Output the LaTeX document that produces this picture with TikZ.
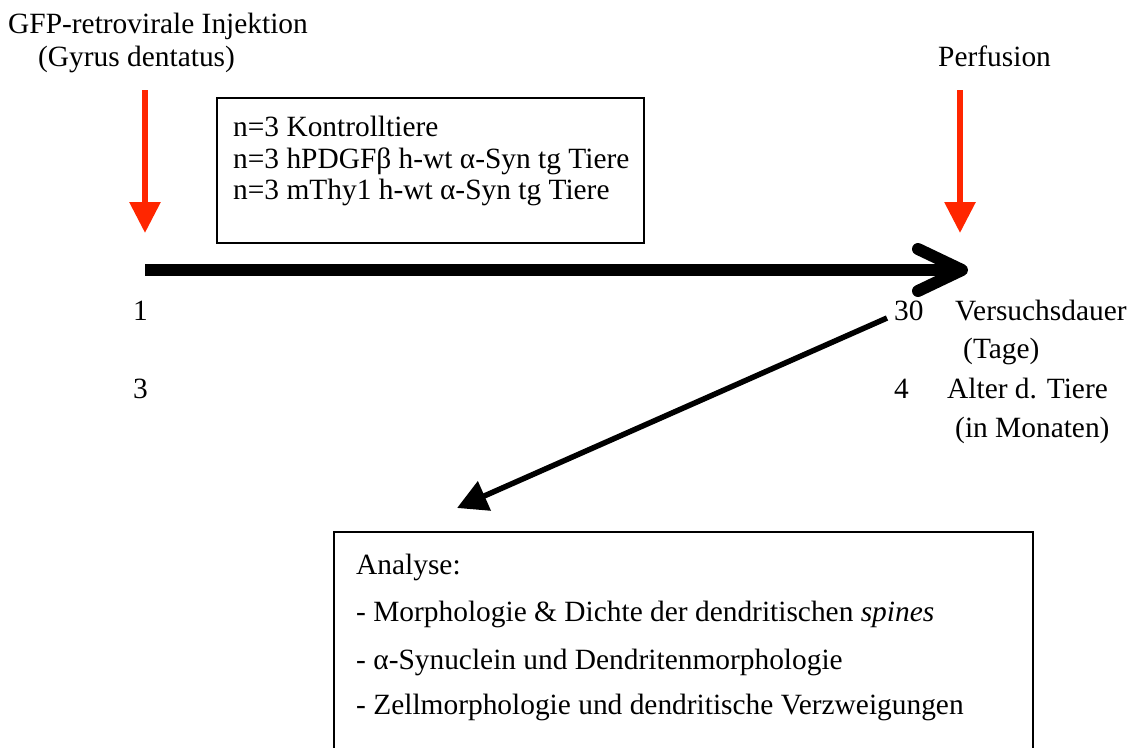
\documentclass[tikz,border=0pt]{standalone}
\usepackage{fontspec}
\setmainfont{Liberation Serif}
\usetikzlibrary{arrows.meta}
\definecolor{arrowred}{RGB}{255,38,0}
\begin{document}
\begin{tikzpicture}[x=1pt,y=-1pt,
  lbl/.style={anchor=base west, inner sep=0pt, font=\fontsize{29.4}{35}\selectfont},
  frame/.style={draw=black, line width=2pt, inner sep=0pt, anchor=north west},
  redarrow/.style={draw=arrowred, line width=6pt, -{Triangle[length=31pt,width=30pt]}},
  timeline/.style={line width=12pt},
  chevron/.style={line width=12pt, line cap=round, line join=round},
  linkarrow/.style={line width=5.5pt, -{Triangle[length=30pt,width=31pt]}}]
\useasboundingbox (0,0) rectangle (1131,747);
\clip (0,0) rectangle (1131,747);
% top labels
\node[lbl] (inj1) at (8,33) {GFP-retrovirale Injektion};
\node[lbl] (inj2) at (38,66) {(Gyrus dentatus)};
\node[lbl] (perf) at (938,66) {Perfusion};
% red arrows
\coordinate (r0a) at (145,90); \coordinate (r0b) at (145,233);
\coordinate (r1a) at (960,90); \coordinate (r1b) at (960,233);
\draw[redarrow] (r0a) -- (r0b);
\draw[redarrow] (r1a) -- (r1b);
% groups box
\node[frame, minimum width=427pt, minimum height=145pt] (groups) at (216,97) {};
\node[lbl] (g1) at (233,136) {n=3 Kontrolltiere};
\node[lbl] (g2) at (233,168) {n=3 hPDGFβ h-wt α-Syn tg Tiere};
\node[lbl] (g3) at (233,199) {n=3 mThy1 h-wt α-Syn tg Tiere};
% timeline
\coordinate (t0) at (145,270); \coordinate (t1) at (962,270);
\draw[timeline] (t0) -- (t1);
\draw[chevron] ([shift={(-44,-21)}]t1) -- (t1) -- ([shift={(-44,21)}]t1);
% axis labels
\node[lbl] (day1) at (133,320) {1};
\node[lbl] (day30) at (894,320) {30};
\node[lbl] (vd) at (955,320) {Versuchsdauer};
\node[lbl] (tage) at (963,358) {(Tage)};
\node[lbl] (age3) at (133,398) {3};
\node[lbl] (age4) at (894,398) {4};
\node[lbl] (alter) at (947,398) {Alter d. Tiere};
\node[lbl] (mon) at (955,437) {(in Monaten)};
% link arrow
\coordinate (d0) at (887,318); \coordinate (d1) at (457,508);
\draw[linkarrow] (d0) -- (d1);
% analysis box
\node[frame, minimum width=699pt, minimum height=240pt] (analysis) at (333,531) {};
\node[lbl] (a0) at (356,574) {Analyse:};
\node[lbl] (a1) at (356,621) {- Morphologie \& Dichte der dendritischen \textit{spines}};
\node[lbl] (a2) at (356,669) {- α-Synuclein und Dendritenmorphologie};
\node[lbl] (a3) at (356,714) {- Zellmorphologie und dendritische Verzweigungen};
\end{tikzpicture}
\end{document}
